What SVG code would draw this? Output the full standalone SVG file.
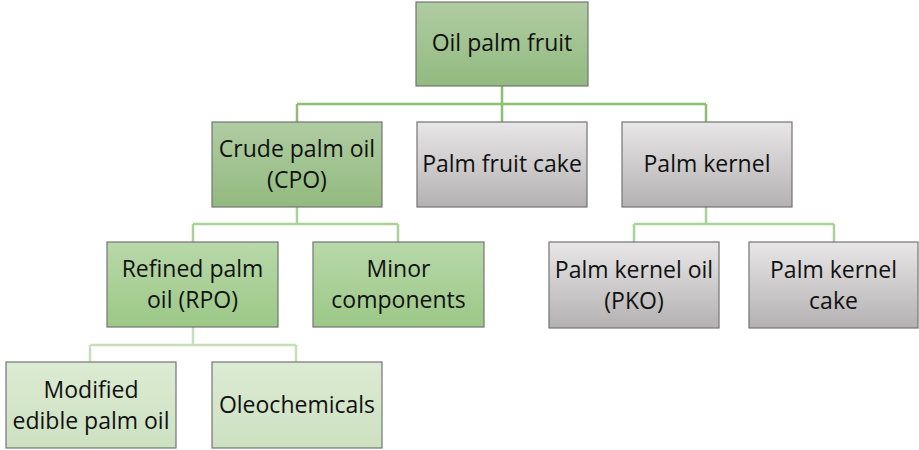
<svg xmlns="http://www.w3.org/2000/svg" width="919" height="450" viewBox="0 0 919 450">
  <defs>
    <linearGradient id="gDark" x1="0" y1="0" x2="0" y2="1">
      <stop offset="0" stop-color="#b0cca2"/>
      <stop offset="1" stop-color="#92ba7f"/>
    </linearGradient>
    <linearGradient id="gMid" x1="0" y1="0" x2="0" y2="1">
      <stop offset="0" stop-color="#b8d8a9"/>
      <stop offset="1" stop-color="#9cc887"/>
    </linearGradient>
    <linearGradient id="gLight" x1="0" y1="0" x2="0" y2="1">
      <stop offset="0" stop-color="#dcebd3"/>
      <stop offset="1" stop-color="#cde1c1"/>
    </linearGradient>
    <linearGradient id="gGray" x1="0" y1="0" x2="0" y2="1">
      <stop offset="0" stop-color="#e8e6e6"/>
      <stop offset="1" stop-color="#b3b1b1"/>
    </linearGradient>
  </defs>
  <style>
    rect { stroke: #747474; stroke-width: 1.2; }
    .dark { fill: url(#gDark); }
    .mid { fill: url(#gMid); }
    .light { fill: url(#gLight); }
    .gray { fill: url(#gGray); }
    text { font-family: "Open Sans", "Noto Sans", sans-serif; font-size: 23px; fill: #111; text-anchor: middle; }
    .c1 { stroke: #8dbf72; stroke-width: 2.5; fill: none; }
    .c2 { stroke: #aad197; stroke-width: 2.5; fill: none; }
    .c3 { stroke: #c6dfb9; stroke-width: 2.5; fill: none; }
  </style>

  <g id="connectors">
    <path class="c1" d="M502 86 V104 M297 104 H706 M297 104 V122 M502 104 V122 M706 104 V122"/>
    <path class="c2" d="M297 207 V224 M193 224 H398 M193 224 V242 M398 224 V242"/>
    <path class="c2" d="M706 207 V224 M634 224 H834 M634 224 V242 M834 224 V242"/>
    <path class="c3" d="M193 327 V345 M90 345 H296 M90 345 V362 M296 345 V362"/>
  </g>

  <g id="oil-palm-fruit">
    <rect class="dark" x="416" y="2" width="172" height="84"/>
    <text x="502" y="51">Oil palm fruit</text>
  </g>
  <g id="crude-palm-oil">
    <rect class="dark" x="212" y="122" width="170" height="85"/>
    <text x="297" y="157">Crude palm oil</text>
    <text x="297" y="188">(CPO)</text>
  </g>
  <g id="palm-fruit-cake">
    <rect class="gray" x="417" y="122" width="170" height="85"/>
    <text x="502" y="172">Palm fruit cake</text>
  </g>
  <g id="palm-kernel">
    <rect class="gray" x="622" y="122" width="170" height="85"/>
    <text x="707" y="172">Palm kernel</text>
  </g>
  <g id="refined-palm-oil">
    <rect class="mid" x="107" y="242" width="171" height="85"/>
    <text x="192.5" y="277">Refined palm</text>
    <text x="192.5" y="308">oil (RPO)</text>
  </g>
  <g id="minor-components">
    <rect class="mid" x="313" y="242" width="171" height="85"/>
    <text x="398.5" y="277">Minor</text>
    <text x="398.5" y="308">components</text>
  </g>
  <g id="palm-kernel-oil">
    <rect class="gray" x="549" y="242" width="170" height="86"/>
    <text x="634" y="278">Palm kernel oil</text>
    <text x="634" y="309">(PKO)</text>
  </g>
  <g id="palm-kernel-cake">
    <rect class="gray" x="749" y="242" width="169" height="86"/>
    <text x="833.5" y="278">Palm kernel</text>
    <text x="833.5" y="309">cake</text>
  </g>
  <g id="modified-edible-palm-oil">
    <rect class="light" x="6" y="362" width="170" height="86"/>
    <text x="91" y="398">Modified</text>
    <text x="91" y="429">edible palm oil</text>
  </g>
  <g id="oleochemicals">
    <rect class="light" x="212" y="362" width="170" height="86"/>
    <text x="297" y="413">Oleochemicals</text>
  </g>
</svg>
